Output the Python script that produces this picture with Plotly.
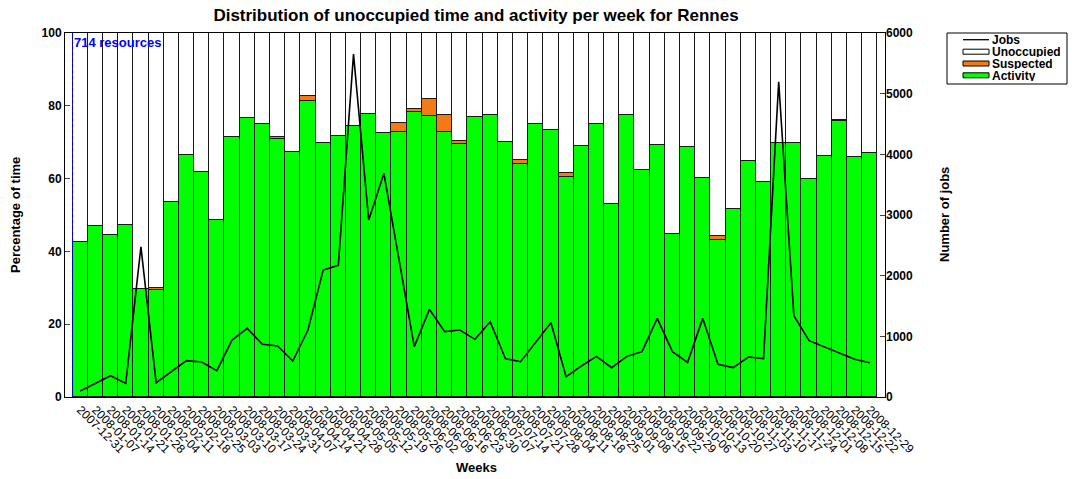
import plotly.graph_objects as go

weeks = ["2007-12-31", "2008-01-07", "2008-01-14", "2008-01-21", "2008-01-28", "2008-02-04",
         "2008-02-11", "2008-02-18", "2008-02-25", "2008-03-03", "2008-03-10", "2008-03-17",
         "2008-03-24", "2008-03-31", "2008-04-07", "2008-04-14", "2008-04-21", "2008-04-28",
         "2008-05-05", "2008-05-12", "2008-05-19", "2008-05-26", "2008-06-02", "2008-06-09",
         "2008-06-16", "2008-06-23", "2008-06-30", "2008-07-07", "2008-07-14", "2008-07-21",
         "2008-07-28", "2008-08-04", "2008-08-11", "2008-08-18", "2008-08-25", "2008-09-01",
         "2008-09-08", "2008-09-15", "2008-09-22", "2008-09-29", "2008-10-06", "2008-10-13",
         "2008-10-20", "2008-10-27", "2008-11-03", "2008-11-10", "2008-11-17", "2008-11-24",
         "2008-12-01", "2008-12-08", "2008-12-15", "2008-12-22", "2008-12-29"]

activity = [42.5, 47.0, 44.6, 47.3, 29.7, 29.5, 53.7, 66.5, 61.7, 48.5, 71.5, 76.6,
            75.1, 70.8, 67.3, 81.3, 69.8, 71.8, 74.5, 77.7, 72.5, 72.9, 78.2, 77.3,
            72.8, 69.6, 76.9, 77.5, 70.1, 63.9, 74.9, 73.4, 60.4, 69.0, 74.9, 53.0,
            77.5, 62.4, 69.2, 44.9, 68.8, 60.2, 43.1, 51.6, 64.9, 59.1, 69.9, 69.8,
            59.8, 66.1, 75.8, 65.9, 67.0]

suspected = [0.0, 0.0, 0.0, 0.0, 0.0, 0.5, 0.0, 0.0, 0.0, 0.0, 0.0, 0.0,
             0.0, 0.5, 0.0, 1.3, 0.0, 0.0, 0.0, 0.0, 0.0, 2.4, 1.0, 4.5,
             4.8, 0.7, 0.0, 0.0, 0.0, 1.3, 0.0, 0.0, 1.1, 0.0, 0.0, 0.0,
             0.0, 0.0, 0.0, 0.0, 0.0, 0.0, 1.2, 0.0, 0.0, 0.0, 0.0, 0.0,
             0.0, 0.0, 0.4, 0.0, 0.0]

jobs = [99, 225, 351, 225, 2477, 236, 418, 599, 577, 434, 939, 1132,
        868, 840, 593, 1104, 2093, 2170, 5652, 2917, 3686, 2258, 830, 1445,
        1077, 1104, 951, 1241, 632, 582, 912, 1225, 335, 511, 670, 484,
        670, 747, 1296, 747, 571, 1296, 538, 484, 659, 632, 5196, 1340,
        928, 830, 720, 621, 566]

legend_labels = ["Jobs", "Unoccupied", "Suspected", "Activity"]

unoccupied = [round(100 - a - s, 2) for a, s in zip(activity, suspected)]
xs = list(range(len(weeks)))

FONT = "Liberation Sans, Arial, sans-serif"
edge = dict(color="#1a1a1a", width=1)
GREEN, ORANGE, WHITE = "#00ff00", "#f47a12", "#ffffff"

fig = go.Figure()
fig.add_trace(go.Bar(x=xs, y=activity, name="Activity", marker=dict(color=GREEN, line=edge), width=1))
fig.add_trace(go.Bar(x=xs, y=suspected, name="Suspected", marker=dict(color=ORANGE, line=edge), width=1))
fig.add_trace(go.Bar(x=xs, y=unoccupied, name="Unoccupied", marker=dict(color=WHITE, line=edge), width=1))
fig.add_trace(go.Scatter(x=xs, y=jobs, name="Jobs", mode="lines", line=dict(color="black", width=1.6), yaxis="y2"))

fig.add_shape(type="line", x0=-0.5, x1=-0.5, y0=0, y1=100, xref="x", yref="y",
              line=dict(color="blue", width=1, dash="dot"))
fig.add_annotation(x=-0.5, y=100, xref="x", yref="y", text="<b>714 resources</b>", showarrow=False,
                   xanchor="left", yanchor="top", font=dict(color="blue", size=13, family=FONT), xshift=-1, yshift=0)

# plot area in pixels: x 65..885, y 33..397
L, R, T, B = 65, 885, 33, 397
def px(x):
    return (x - L) / (R - L)
def py(y):
    return (B - y) / (B - T)

# axis titles
fig.add_annotation(xref="paper", yref="paper", x=px(476), y=py(467), text="<b>Weeks</b>", showarrow=False,
                   xanchor="center", yanchor="middle", font=dict(size=13, family=FONT))
fig.add_annotation(xref="paper", yref="paper", x=px(15), y=py(215), text="<b>Percentage of time</b>",
                   showarrow=False, textangle=-90, xanchor="center", yanchor="middle",
                   font=dict(size=13, family=FONT))
fig.add_annotation(xref="paper", yref="paper", x=px(944), y=py(215), text="<b>Number of jobs</b>",
                   showarrow=False, textangle=-90, xanchor="center", yanchor="middle",
                   font=dict(size=13, family=FONT))

# compact legend
fig.add_shape(type="rect", xref="paper", yref="paper", x0=px(947), x1=px(1067), y0=py(84), y1=py(33),
              line=dict(color="black", width=1), fillcolor="white")
row_y = [39.7, 51.7, 63.5, 75.3]
fills = [None, WHITE, ORANGE, GREEN]
for lab, yy, fc in zip(legend_labels, row_y, fills):
    if fc is None:
        fig.add_shape(type="line", xref="paper", yref="paper", x0=px(963), x1=px(989), y0=py(yy), y1=py(yy),
                      line=dict(color="black", width=1.3))
    else:
        fig.add_shape(type="rect", xref="paper", yref="paper", x0=px(963), x1=px(989), y0=py(yy + 2.5),
                      y1=py(yy - 2.5), line=dict(color="black", width=1), fillcolor=fc)
    fig.add_annotation(xref="paper", yref="paper", x=px(991), y=py(yy), text="<b>%s</b>" % lab,
                       showarrow=False, xanchor="left", yanchor="middle", height=11, borderpad=0,
                       font=dict(size=12, family=FONT))

fig.update_layout(
    width=1072, height=479,
    margin=dict(l=L, r=1072 - R, t=T, b=479 - B),
    barmode="stack", bargap=0,
    paper_bgcolor="white", plot_bgcolor="white",
    font=dict(family=FONT, size=12, color="black"),
    title=dict(text="<b>Distribution of unoccupied time and activity per week for Rennes</b>",
               x=476/1072, xanchor="center", y=0.968, yanchor="middle", font=dict(size=17)),
    xaxis=dict(range=[-1, 53], tickmode="array", tickvals=xs, ticktext=weeks, tickangle=45,
               ticks="", showgrid=False, zeroline=False, showline=True, linecolor="black", mirror=True,
               linewidth=1, tickfont=dict(size=12), automargin=False),
    yaxis=dict(range=[0, 100], tickmode="array", tickvals=[0, 20, 40, 60, 80, 100],
               ticktext=["<b>%d</b>" % v for v in [0, 20, 40, 60, 80, 100]],
               ticks="inside", ticklen=5, showgrid=False, zeroline=False, showline=True,
               linecolor="black", mirror=True, linewidth=1, tickfont=dict(size=12), automargin=False),
    yaxis2=dict(range=[0, 6000], overlaying="y", side="right", tickmode="array",
                tickvals=[0, 1000, 2000, 3000, 4000, 5000, 6000],
                ticktext=["<b>%d</b>" % v for v in [0, 1000, 2000, 3000, 4000, 5000, 6000]],
                ticks="inside", ticklen=5, showgrid=False, zeroline=False, showline=False,
                tickfont=dict(size=12), automargin=False),
    showlegend=False,
)

fig.write_html("out.html", config={"displayModeBar": False},
               post_script="document.body.style.margin='0';document.body.style.padding='0';")
